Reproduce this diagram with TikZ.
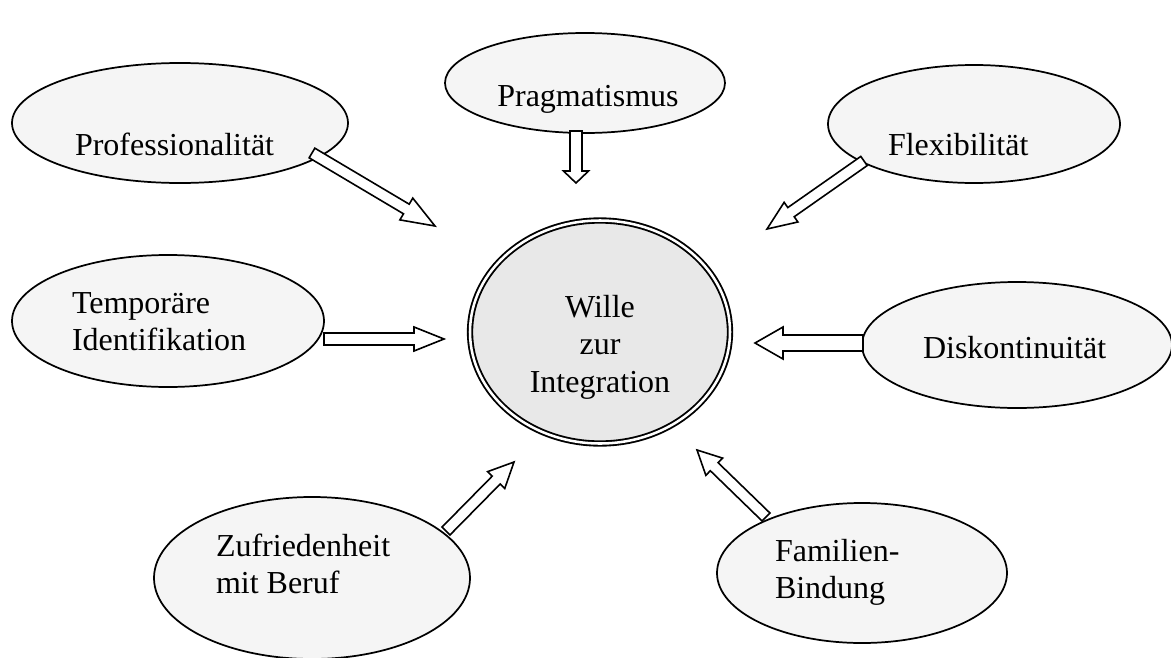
\documentclass[tikz,border=0pt]{standalone}
\usepackage{fontspec}
\setmainfont{Liberation Serif}
\usetikzlibrary{shapes.geometric,calc}

\definecolor{bubblefill}{HTML}{F5F5F5}
\definecolor{corefill}{HTML}{E8E8E8}

\tikzset{
  bubble/.style={ellipse, draw=black, line width=1.3pt, fill=bubblefill, inner sep=0pt, outer sep=0pt},
  core/.style={ellipse, draw=black, line width=1.4pt, double=white, double distance=1.9pt, fill=corefill, inner sep=0pt},
  caption/.style={font=\fontsize{24}{27.5}\selectfont, inner sep=0pt, outer sep=0pt},
  blockarrow/.style={draw=black, line width=1.2pt, fill=white, line join=miter},
}

% hollow block arrow: tail, tip, half shaft width, half head width, head length
\newcommand{\blockarr}[5]{%
  \coordinate (ba-h) at ($(#2)!#5!(#1)$);
  \draw[blockarrow] ($(#1)!#3!90:(#2)$) -- ($(ba-h)!#3!90:(#2)$) -- ($(ba-h)!#4!90:(#2)$)
    -- (#2) -- ($(ba-h)!#4!-90:(#2)$) -- ($(ba-h)!#3!-90:(#2)$) -- ($(#1)!#3!-90:(#2)$) -- cycle;
}

\begin{document}
\begin{tikzpicture}[x=0.75pt, y=-0.75pt]
  \useasboundingbox (0,0) rectangle (1171,657);

  % outer factors
  \node[bubble, minimum width=252pt, minimum height=90pt] (prof) at (180,123) {};
  \node[bubble, minimum width=210pt, minimum height=75pt] (prag) at (585,83) {};
  \node[bubble, minimum width=219pt, minimum height=88.5pt] (flex) at (974,124) {};
  \node[bubble, minimum width=234pt, minimum height=99pt] (temp) at (168,321) {};
  \node[bubble, minimum width=232.5pt, minimum height=94.5pt] (disk) at (1017,345) {};
  \node[bubble, minimum width=237pt, minimum height=121.5pt] (zuf) at (312,578) {};
  \node[bubble, minimum width=217.5pt, minimum height=105pt] (fam) at (862,573) {};

  % central goal
  \node[core, minimum width=195pt, minimum height=167.25pt] (wille) at (600,332) {};

  % arrow ends
  \coordinate (prof-tail) at (312,153);  \coordinate (prof-tip) at (435,226);
  \coordinate (prag-tail) at (576,131);  \coordinate (prag-tip) at (576,183);
  \coordinate (flex-tail) at (864,161);  \coordinate (flex-tip) at (767,229);
  \coordinate (temp-tail) at (324,339);  \coordinate (temp-tip) at (444,339);
  \coordinate (disk-tail) at (863,343);  \coordinate (disk-tip) at (755,343);
  \coordinate (zuf-tail)  at (446,531);  \coordinate (zuf-tip)  at (514,462);
  \coordinate (fam-tail)  at (766,517);  \coordinate (fam-tip)  at (697,450);

  \blockarr{prof-tail}{prof-tip}{4.2pt}{9.5pt}{25pt}
  \blockarr{prag-tail}{prag-tip}{4.5pt}{9.4pt}{9pt}
  \blockarr{flex-tail}{flex-tip}{4.2pt}{9pt}{22pt}
  \blockarr{temp-tail}{temp-tip}{4.5pt}{9pt}{22.5pt}
  \blockarr{disk-tail}{disk-tip}{6pt}{12pt}{21pt}
  \blockarr{zuf-tail}{zuf-tip}{4.2pt}{9pt}{19pt}
  \blockarr{fam-tail}{fam-tip}{4.2pt}{9pt}{18pt}

  % labels (multi-line labels are placed by the baseline of their last line)
  \node[caption, anchor=base west] (prof-txt) at (75,155) {Professionalität};
  \node[caption, anchor=base] (prag-txt) at (588,106) {Pragmatismus};
  \node[caption, anchor=base west] (flex-txt) at (888,155) {Flexibilität};
  \node[caption, anchor=base west, align=left] (temp-txt) at (72,350) {Temporäre\\Identifikation};
  \node[caption, anchor=base west] (disk-txt) at (923,358) {Diskontinuität};
  \node[caption, anchor=base west, align=left] (zuf-txt) at (216,593) {Zufriedenheit\\mit Beruf};
  \node[caption, anchor=base west, align=left] (fam-txt) at (775,598) {Familien-\\Bindung};
  \node[caption, anchor=base, align=center, font=\fontsize{24}{28}\selectfont] (wille-txt) at (600,392) {Wille\\zur\\Integration};
\end{tikzpicture}
\end{document}
